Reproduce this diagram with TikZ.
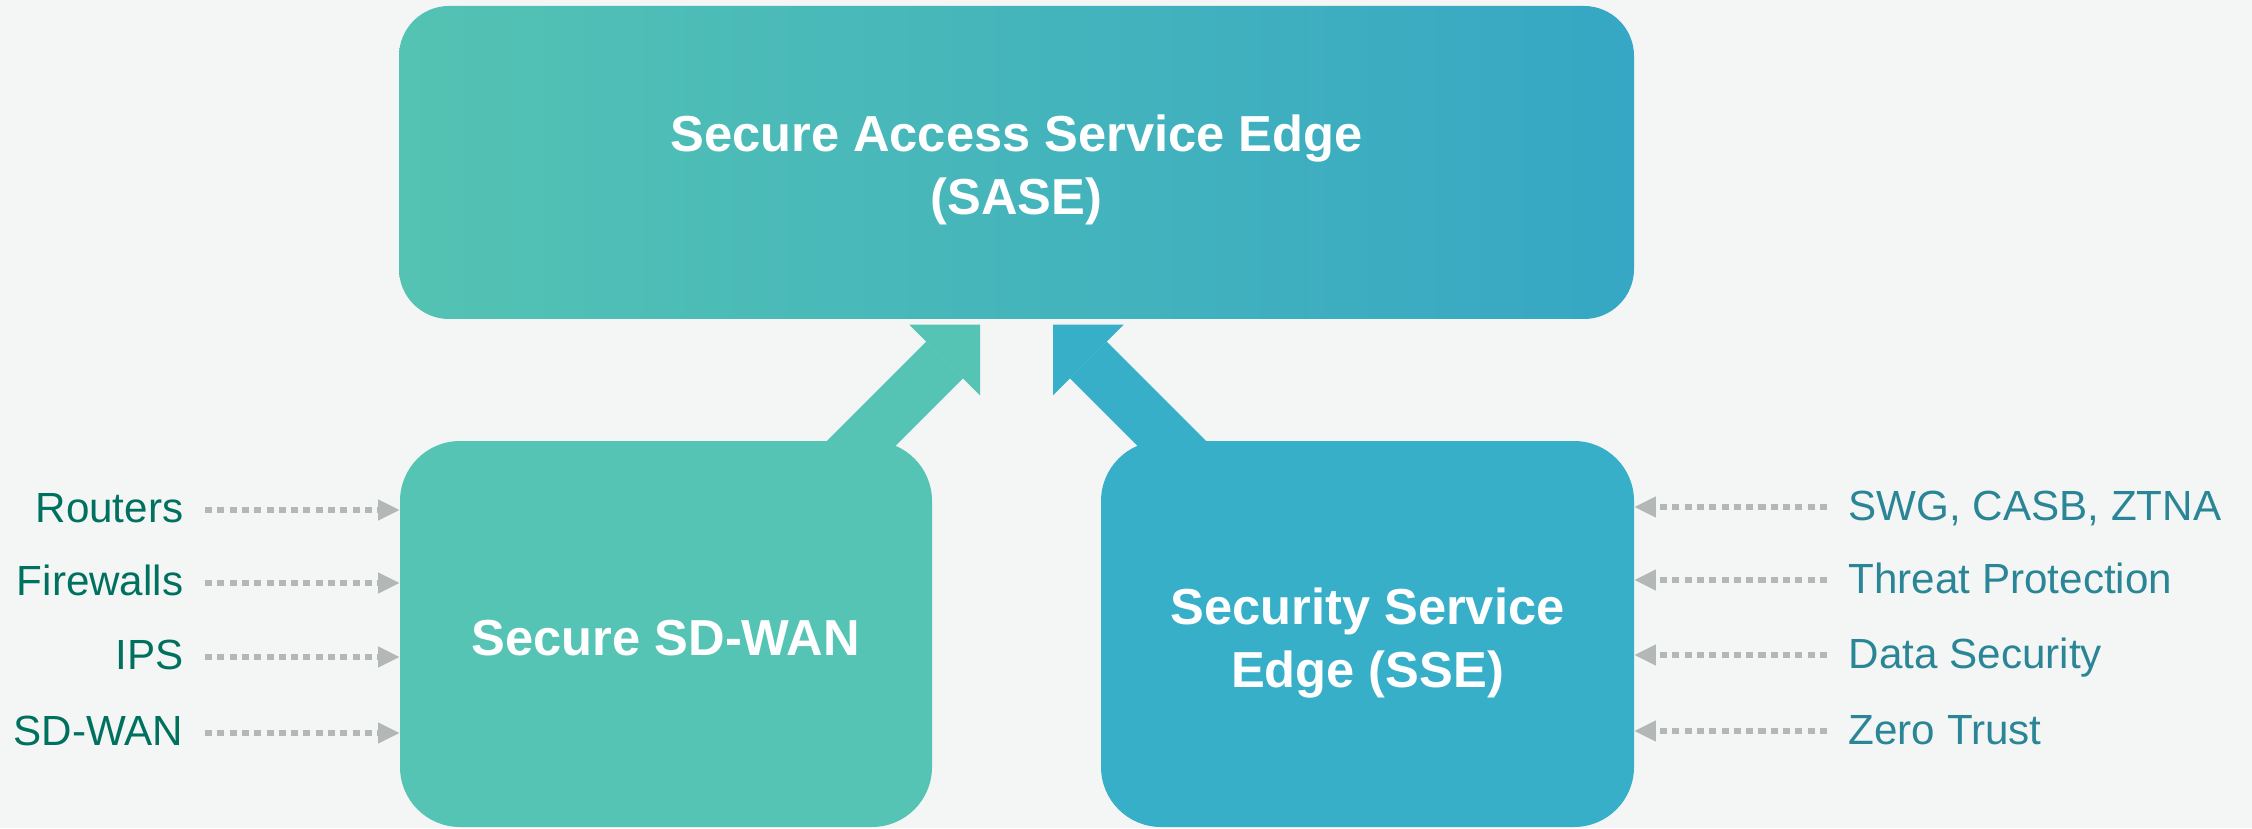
\documentclass[tikz,border=0pt]{standalone}
\usepackage{fontspec}
\setmainfont{Liberation Sans}
\usetikzlibrary{arrows.meta,calc}

\definecolor{bgclr}{HTML}{F4F6F5}
\definecolor{wanclr}{HTML}{55C4B4}
\definecolor{sseclr}{HTML}{37AFC9}
\definecolor{saseleft}{HTML}{54C3B3}
\definecolor{saseright}{HTML}{36A7C4}
\definecolor{lefttxt}{HTML}{00705F}
\definecolor{righttxt}{HTML}{2A8696}
\definecolor{feedclr}{HTML}{B3B8B7}

\begin{document}
\begin{tikzpicture}[
	box/.style={inner sep=0,align=center,text=white,font=\bfseries\fontsize{14.4}{17.9}\selectfont},
	tag/.style={inner sep=0,font=\fontsize{12}{14.4}\selectfont},
	feed/.style={draw=feedclr,line width=1.5pt,dash pattern=on 2pt off 1.5pt,-{Triangle[length=6pt,width=6pt,line width=0pt]}},
	lift/.style={line width=0.52cm,-{Triangle[length=0.5cm,width=1cm,line width=0pt]}}
	]
	\useasboundingbox (0,0) rectangle (22.52,8.28);
	\fill[bgclr] (0,0) rectangle (22.52,8.28);
	\node[box,left color=saseleft,right color=saseright,rounded corners=0.5cm,minimum width=12.35cm,minimum height=3.13cm] (sase) at (10.165,6.655) {\rule{0pt}{0.52cm}Secure Access Service Edge\\(SASE)};
	\coordinate (wantip) at ($(sase.south)+(-0.365,-0.05)$);
	\coordinate (wanfoot) at ($(wantip)+(-1.6,-1.6)$);
	\coordinate (ssetip) at ($(sase.south)+(0.365,-0.05)$);
	\coordinate (ssefoot) at ($(ssetip)+(1.6,-1.6)$);
	\draw[lift,wanclr] (wanfoot) -- (wantip);
	\draw[lift,sseclr] (ssefoot) -- (ssetip);
	\node[box,fill=wanclr,rounded corners=0.6cm,minimum width=5.32cm,minimum height=3.86cm] (wan) at (6.66,1.94) {\rule{0pt}{0.44cm}Secure SD-WAN};
	\node[box,fill=sseclr,rounded corners=0.6cm,minimum width=5.33cm,minimum height=3.86cm] (sse) at (13.675,1.94) {\rule{0pt}{0.55cm}Security Service\\Edge (SSE)};
	% left side
	\node[tag,text=lefttxt,anchor=base east] (routers) at (1.84,3.06) {Routers};
	\node[tag,text=lefttxt,anchor=base east] (firewalls) at (1.84,2.33) {Firewalls};
	\node[tag,text=lefttxt,anchor=base east] (ips) at (1.84,1.59) {IPS};
	\node[tag,text=lefttxt,anchor=base east] (sdwan) at (1.84,0.83) {SD-WAN};
	\draw[feed] ([xshift=2.1mm,yshift=1.2mm]routers.base east) -- ([yshift=1.2mm]routers.base east -| wan.west);
	\draw[feed] ([xshift=2.1mm,yshift=1.2mm]firewalls.base east) -- ([yshift=1.2mm]firewalls.base east -| wan.west);
	\draw[feed] ([xshift=2.1mm,yshift=1.2mm]ips.base east) -- ([yshift=1.2mm]ips.base east -| wan.west);
	\draw[feed] ([xshift=2.1mm,yshift=1.2mm]sdwan.base east) -- ([yshift=1.2mm]sdwan.base east -| wan.west);
	% right side
	\node[tag,text=righttxt,anchor=base west] (swg) at (18.48,3.08) {SWG, CASB, ZTNA};
	\node[tag,text=righttxt,anchor=base west] (threat) at (18.48,2.35) {Threat Protection};
	\node[tag,text=righttxt,anchor=base west] (data) at (18.48,1.60) {Data Security};
	\node[tag,text=righttxt,anchor=base west] (zero) at (18.48,0.84) {Zero Trust};
	\draw[feed] ([xshift=-2.1mm,yshift=1.3mm]swg.base west) -- ([yshift=1.3mm]swg.base west -| sse.east);
	\draw[feed] ([xshift=-2.1mm,yshift=1.3mm]threat.base west) -- ([yshift=1.3mm]threat.base west -| sse.east);
	\draw[feed] ([xshift=-2.1mm,yshift=1.3mm]data.base west) -- ([yshift=1.3mm]data.base west -| sse.east);
	\draw[feed] ([xshift=-2.1mm,yshift=1.3mm]zero.base west) -- ([yshift=1.3mm]zero.base west -| sse.east);
\end{tikzpicture}
\end{document}
